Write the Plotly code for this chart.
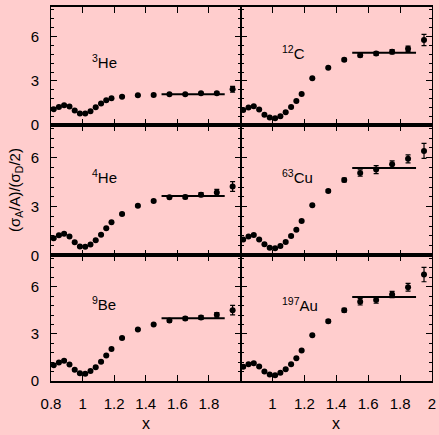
import plotly.graph_objects as go

# Bjorken x bins (shared by all nuclei)
x_vals = [0.817, 0.85, 0.883, 0.917, 0.95, 0.983, 1.017, 1.05, 1.083, 1.117,
          1.15, 1.183, 1.25, 1.35, 1.45, 1.55, 1.65, 1.75, 1.85, 1.95]

# Per-nucleon cross-section ratios to deuterium
he3 = [1.08, 1.23, 1.35, 1.26, 0.99, 0.79, 0.79, 0.94, 1.21, 1.46,
       1.68, 1.82, 1.93, 2.02, 2.04, 2.09, 2.09, 2.16, 2.16, 2.43]
he3_err = [0.05] * 17 + [0.06, 0.08, 0.2]

he4 = [1.05, 1.23, 1.33, 1.15, 0.80, 0.55, 0.53, 0.66, 0.92, 1.27,
       1.66, 2.03, 2.54, 3.04, 3.34, 3.57, 3.59, 3.73, 3.86, 4.23]
he4_err = [0.05] * 15 + [0.08, 0.1, 0.12, 0.2, 0.3]

be9 = [1.01, 1.18, 1.29, 1.05, 0.71, 0.50, 0.46, 0.63, 0.88, 1.22,
       1.62, 2.03, 2.73, 3.28, 3.60, 3.85, 3.98, 4.04, 4.21, 4.51]
be9_err = [0.05] * 15 + [0.1, 0.1, 0.12, 0.15, 0.3]

c12 = [1.03, 1.19, 1.28, 1.06, 0.70, 0.52, 0.47, 0.61, 0.88, 1.23,
       1.64, 2.11, 3.17, 3.89, 4.43, 4.74, 4.85, 4.97, 5.17, 5.77]
c12_err = [0.05] * 14 + [0.1, 0.12, 0.12, 0.15, 0.18, 0.38]

cu63 = [0.98, 1.15, 1.25, 0.98, 0.68, 0.47, 0.43, 0.57, 0.82, 1.19,
        1.58, 2.11, 3.08, 3.96, 4.63, 5.06, 5.27, 5.60, 5.93, 6.42]
cu63_err = [0.05] * 13 + [0.08, 0.12, 0.2, 0.25, 0.2, 0.25, 0.46]

au197 = [0.90, 1.07, 1.13, 0.92, 0.61, 0.41, 0.37, 0.52, 0.75, 1.07,
         1.45, 1.94, 2.92, 3.81, 4.51, 5.04, 5.15, 5.51, 5.97, 6.78]
au197_err = [0.05] * 13 + [0.1, 0.12, 0.2, 0.2, 0.2, 0.25, 0.46]

# Plateau levels fitted over 1.5 < x < 1.9
plateau_x = [1.5, 1.9]
plateau = {"he3": 2.1, "he4": 3.65, "be9": 4.0, "c12": 4.9, "cu63": 5.37, "au197": 5.34}

# Panel labels and label positions (x, y in data units)
panels = [
    # (key, values, errors, row(0=top), col, label, label_y)
    ("he3", he3, he3_err, 0, 0, "<sup>3</sup>He", 4.3),
    ("c12", c12, c12_err, 0, 1, "<sup>12</sup>C", 4.9),
    ("he4", he4, he4_err, 1, 0, "<sup>4</sup>He", 4.87),
    ("cu63", cu63, cu63_err, 1, 1, "<sup>63</sup>Cu", 4.87),
    ("be9", be9, be9_err, 2, 0, "<sup>9</sup>Be", 4.95),
    ("au197", au197, au197_err, 2, 1, "<sup>197</sup>Au", 4.9),
]

x_ticks = [0.8, 1.0, 1.2, 1.4, 1.6, 1.8, 2.0]
x_labels_left = ["0.8", "1", "1.2", "1.4", "1.6", "1.8", ""]
x_labels_right = ["", "1", "1.2", "1.4", "1.6", "1.8", "2"]
y_ticks = [0, 3, 6]

bg = "#FFCDCD"
font_family = "Liberation Sans, Arial, sans-serif"

col_domains = [[0.0, 0.4974], [0.4974, 1.0]]
row_domains = [[0.684, 1.0], [0.336, 0.684], [0.0, 0.336]]

fig = go.Figure()
layout = {}
annotations = []

for i, (key, vals, errs, row, col, label, label_y) in enumerate(panels):
    n = i + 1
    xa = "x" if n == 1 else f"x{n}"
    ya = "y" if n == 1 else f"y{n}"
    fig.add_trace(go.Scatter(
        x=x_vals, y=vals, mode="markers", xaxis=xa, yaxis=ya,
        marker=dict(color="black", size=6),
        error_y=dict(type="data", array=errs, visible=True,
                     color="black", thickness=1.2, width=2.5),
        showlegend=False, hoverinfo="x+y",
    ))
    fig.add_trace(go.Scatter(
        x=plateau_x, y=[plateau[key]] * 2, mode="lines", xaxis=xa, yaxis=ya,
        line=dict(color="black", width=2), showlegend=False, hoverinfo="skip",
    ))

    bottom = row == 2
    left = col == 0
    xname = "xaxis" if n == 1 else f"xaxis{n}"
    yname = "yaxis" if n == 1 else f"yaxis{n}"
    layout[xname] = dict(
        domain=col_domains[col], anchor=ya, range=[0.8, 2.0],
        tickmode="array", tickvals=x_ticks,
        ticktext=(x_labels_left if left else x_labels_right),
        showticklabels=bottom, ticks="inside", ticklen=6, tickwidth=1,
        tickcolor="black", showline=True, linecolor="black", linewidth=1.5,
        mirror="ticks", showgrid=False, zeroline=False, automargin=False,
        ticklabelstandoff=8,
        tickfont=dict(size=15, color="black", family=font_family),
    )
    layout[yname] = dict(
        domain=row_domains[row], anchor=xa, range=[0, 8],
        tickmode="array", tickvals=y_ticks, showticklabels=left,
        ticks="inside", ticklen=6, tickwidth=1, tickcolor="black",
        minor=dict(dtick=0.6, tick0=0, ticks="inside", ticklen=3,
                   tickcolor="black", showgrid=False),
        showline=True, linecolor="black", linewidth=1, mirror="ticks",
        showgrid=False, zeroline=False, automargin=False, ticklabelstandoff=8,
        tickfont=dict(size=15, color="black", family=font_family),
    )
    annotations.append(dict(
        x=1.05, y=label_y, xref=xa, yref=ya, text=label, showarrow=False,
        xanchor="left", yanchor="middle",
        font=dict(size=15, color="black", family=font_family),
    ))

# Axis titles placed in paper coordinates below/left of the panel grid
for cx in (sum(col_domains[0]) / 2, sum(col_domains[1]) / 2):
    annotations.append(dict(
        x=cx, y=-0.113, xref="paper", yref="paper", text="x", showarrow=False,
        xanchor="center", yanchor="middle",
        font=dict(size=16, color="black", family=font_family),
    ))
annotations.append(dict(
    x=-0.095, y=0.51, xref="paper", yref="paper",
    text="(σ<sub>A</sub>/A)/(σ<sub>D</sub>/2)", showarrow=False, textangle=-90,
    xanchor="center", yanchor="middle",
    font=dict(size=15, color="black", family=font_family),
))

fig.update_layout(
    **layout,
    annotations=annotations,
    width=439, height=435,
    margin=dict(l=51, r=7, t=7, b=54),
    paper_bgcolor=bg, plot_bgcolor=bg,
    font=dict(family=font_family, color="black"),
)

fig.write_html("out.html")
